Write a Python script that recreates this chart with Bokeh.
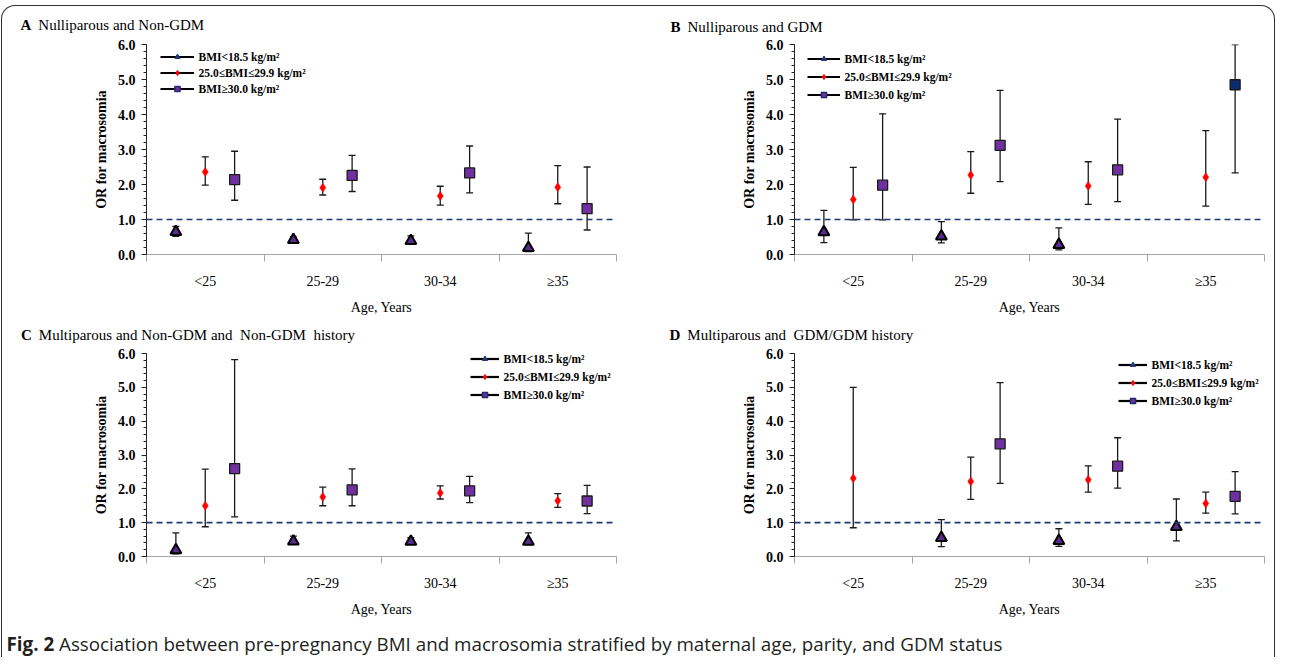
import math
from bokeh.plotting import figure
from bokeh.models import (ColumnDataSource, FixedTicker, Span, Legend,
                          LegendItem, PrintfTickFormatter, Div, Range1d)
from bokeh.layouts import column, row
from bokeh.embed import file_html
from bokeh.resources import INLINE

NaN = float("nan")

# ---------------- data ----------------
age_groups = ["<25", "25-29", "30-34", "\u226535"]
series_labels = ["BMI<18.5 kg/m\u00b2", "25.0\u2264BMI\u226429.9 kg/m\u00b2", "BMI\u226530.0 kg/m\u00b2"]
panel_titles = ["Nulliparous and Non-GDM", "Nulliparous and GDM",
                "Multiparous and Non-GDM and  Non-GDM  history",
                "Multiparous and  GDM/GDM history"]
panel_letters = ["A", "B", "C", "D"]

# Panel A
a_low_or = [0.65, 0.42, 0.39, 0.19]
a_low_lo = [0.52, 0.35, 0.30, 0.08]
a_low_hi = [0.80, 0.50, 0.53, 0.61]
a_ow_or = [2.36, 1.91, 1.67, 1.92]
a_ow_lo = [1.98, 1.70, 1.41, 1.45]
a_ow_hi = [2.79, 2.15, 1.95, 2.54]
a_ob_or = [2.14, 2.26, 2.33, 1.31]
a_ob_lo = [1.55, 1.80, 1.76, 0.70]
a_ob_hi = [2.95, 2.83, 3.10, 2.50]

# Panel B
b_low_or = [0.64, 0.52, 0.28, NaN]
b_low_lo = [0.34, 0.33, 0.13, NaN]
b_low_hi = [1.26, 0.94, 0.76, NaN]
b_ow_or = [1.57, 2.27, 1.96, 2.21]
b_ow_lo = [0.99, 1.75, 1.43, 1.38]
b_ow_hi = [2.49, 2.94, 2.65, 3.54]
b_ob_or = [1.98, 3.12, 2.42, 4.85]
b_ob_lo = [0.99, 2.08, 1.51, 2.33]
b_ob_hi = [4.02, 4.69, 3.87, 6.00]

# Panel C
c_low_or = [0.19, 0.45, 0.44, 0.44]
c_low_lo = [0.08, 0.38, 0.38, 0.35]
c_low_hi = [0.70, 0.60, 0.56, 0.70]
c_ow_or = [1.50, 1.76, 1.88, 1.65]
c_ow_lo = [0.88, 1.50, 1.70, 1.45]
c_ow_hi = [2.58, 2.05, 2.09, 1.86]
c_ob_or = [2.60, 1.97, 1.94, 1.64]
c_ob_lo = [1.17, 1.50, 1.59, 1.27]
c_ob_hi = [5.82, 2.59, 2.37, 2.10]

# Panel D
d_low_or = [NaN, 0.55, 0.46, 0.88]
d_low_lo = [NaN, 0.29, 0.30, 0.46]
d_low_hi = [NaN, 1.09, 0.82, 1.70]
d_ow_or = [2.31, 2.22, 2.27, 1.57]
d_ow_lo = [0.85, 1.69, 1.90, 1.28]
d_ow_hi = [5.00, 2.94, 2.68, 1.90]
d_ob_or = [NaN, 3.33, 2.67, 1.78]
d_ob_lo = [NaN, 2.16, 2.02, 1.26]
d_ob_hi = [NaN, 5.14, 3.51, 2.51]

reference_or = 1.0

# ---------------- styles ----------------
SERIF = "Liberation Serif"
PURPLE = "#7030A0"
NAVY = "#1F3A7A"
RED = "#FF0000"
BAR = "#1a1a1a"
square_fill = {
    "A": [PURPLE] * 4,
    "B": [PURPLE, PURPLE, PURPLE, "#0C2A6E"],
    "C": [PURPLE] * 4,
    "D": [PURPLE] * 4,
}
offsets = [0.25, 0.5, 0.75]


def add_series(p, vals, lo, hi, off, kind, fills=None):
    xs = [i + off for i in range(len(age_groups))]
    src = ColumnDataSource(dict(x=xs, y=vals, lo=lo, hi=hi))
    p.segment(x0="x", y0="lo", x1="x", y1="hi", source=src,
              line_color=BAR, line_width=1.3)
    for f in ("lo", "hi"):
        p.scatter(x="x", y=f, source=src, marker="dash", size=7,
                  line_color=BAR, line_width=1.3)
    if kind == "tri":
        p.scatter(x="x", y="y", source=src, marker="triangle", size=11,
                  fill_color="#5B2A8E", line_color="black", line_width=2)
    elif kind == "dia":
        p.scatter(x="x", y="y", source=src, marker="diamond", size=9,
                  fill_color=RED, line_color=RED, line_width=0.5)
    else:
        src.data["fill"] = fills
        p.scatter(x="x", y="y", source=src, marker="square", size=10,
                  fill_color="fill", line_color="#1a1a1a", line_width=1.3)


def make_panel(letter, data, width, height, mbl, mbr, mbt, mbb,
               leg_loc, leg_glyph_w, leg_spacing):
    p = figure(width=width, height=height, output_backend="svg",
               toolbar_location=None, x_range=Range1d(0, 4), y_range=Range1d(0, 6),
               min_border_left=mbl, min_border_right=mbr,
               min_border_top=mbt, min_border_bottom=mbb)
    p.outline_line_color = None
    p.grid.visible = False
    p.background_fill_color = "white"
    p.border_fill_color = "white"

    # x axis
    xa = p.xaxis[0]
    xa.ticker = FixedTicker(ticks=[i + 0.5 for i in range(len(age_groups))],
                            minor_ticks=[i for i in range(len(age_groups) + 1)])
    xa.major_label_overrides = {i + 0.5: g for i, g in enumerate(age_groups)}
    xa.major_tick_line_color = None
    xa.major_tick_out = 0
    xa.major_tick_in = 0
    xa.minor_tick_out = 7
    xa.minor_tick_in = 0
    xa.minor_tick_line_color = "#a6a6a6"
    xa.axis_line_color = "#a6a6a6"
    xa.major_label_text_font = SERIF
    xa.major_label_text_font_size = "14px"
    xa.major_label_text_color = "black"
    xa.major_label_standoff = 12
    xa.axis_label = "Age, Years"
    xa.axis_label_text_font = SERIF
    xa.axis_label_text_font_style = "normal"
    xa.axis_label_text_font_size = "14px"
    xa.axis_label_text_color = "black"
    xa.axis_label_standoff = 8

    # y axis
    ya = p.yaxis[0]
    ya.ticker = FixedTicker(ticks=[0, 1, 2, 3, 4, 5, 6],
                            minor_ticks=[k / 5 for k in range(31)])
    ya.formatter = PrintfTickFormatter(format="%.1f")
    ya.major_tick_out = 5
    ya.major_tick_in = 0
    ya.minor_tick_out = 3
    ya.minor_tick_in = 0
    ya.axis_line_color = "#222222"
    ya.major_tick_line_color = "#222222"
    ya.minor_tick_line_color = "#222222"
    ya.major_label_text_font = SERIF
    ya.major_label_text_font_style = "bold"
    ya.major_label_text_font_size = "14px"
    ya.major_label_text_color = "black"
    ya.major_label_standoff = 6
    ya.axis_label = "OR for macrosomia"
    ya.axis_label_text_font = SERIF
    ya.axis_label_text_font_style = "bold"
    ya.axis_label_text_font_size = "14px"
    ya.axis_label_text_color = "black"
    ya.axis_label_standoff = 6

    p.add_layout(Span(location=reference_or, dimension="width", line_color="#1F3A6E",
                      line_dash="6 4", line_width=1.6))

    low, ow, ob = data
    add_series(p, *low, offsets[0], "tri")
    add_series(p, *ow, offsets[1], "dia")
    add_series(p, *ob, offsets[2], "sq", square_fill[letter])

    # legend proxies (NaN data: nothing drawn in the plot area)
    items = []
    styles_leg = [
        dict(marker="triangle", size=10, fill_color=NAVY, line_color=NAVY, line_width=1),
        dict(marker="diamond", size=8, fill_color=RED, line_color=RED, line_width=1),
        dict(marker="square", size=10, fill_color=PURPLE, line_color="#1F2A6E", line_width=1.5),
    ]
    for lab, st in zip(series_labels, styles_leg):
        lr = p.line(x=[NaN, NaN], y=[NaN, NaN], line_color="black", line_width=2.2)
        mr = p.scatter(x=[NaN], y=[NaN], **st)
        items.append(LegendItem(label=lab, renderers=[lr, mr]))
    leg = Legend(items=items, location=leg_loc, glyph_width=leg_glyph_w,
                 glyph_height=13, label_height=13, spacing=leg_spacing,
                 label_standoff=5, padding=0, margin=0,
                 background_fill_alpha=0, border_line_color=None,
                 label_text_font=SERIF, label_text_font_style="bold",
                 label_text_font_size="11.5px", label_text_color="black")
    p.add_layout(leg)
    return p


def title_div(letter, title, left, top):
    return Div(
        text=(f'<div style="margin-top:{top}px;margin-left:{left}px;white-space:pre;">'
              f'<span style="font-weight:bold;margin-right:7px;">{letter}</span>{title}</div>'),
        width=636, height=30, margin=(0, 0, 0, 0),
        styles={"font-family": SERIF, "font-size": "15px", "line-height": "18px",
                "color": "black"})


def pack(low_or, low_lo, low_hi, ow_or, ow_lo, ow_hi, ob_or, ob_lo, ob_hi):
    return ((low_or, low_lo, low_hi), (ow_or, ow_lo, ow_hi), (ob_or, ob_lo, ob_hi))


dA = pack(a_low_or, a_low_lo, a_low_hi, a_ow_or, a_ow_lo, a_ow_hi, a_ob_or, a_ob_lo, a_ob_hi)
dB = pack(b_low_or, b_low_lo, b_low_hi, b_ow_or, b_ow_lo, b_ow_hi, b_ob_or, b_ob_lo, b_ob_hi)
dC = pack(c_low_or, c_low_lo, c_low_hi, c_ow_or, c_ow_lo, c_ow_hi, c_ob_or, c_ob_lo, c_ob_hi)
dD = pack(d_low_or, d_low_lo, d_low_hi, d_ow_or, d_ow_lo, d_ow_hi, d_ob_or, d_ob_lo, d_ob_hi)

pA = make_panel("A", dA, 636, 281, 144, 22, 8, 63, (13.5, 159), 34, 3)
pB = make_panel("B", dB, 636, 281, 156, 10, 8, 63, (12.5, 153), 33, 5)
pC = make_panel("C", dC, 636, 272, 144, 22, 6, 56, (323.5, 155), 29, 5)
pD = make_panel("D", dD, 636, 272, 156, 10, 6, 56, (323.5, 149), 29, 5)

tA = title_div("A", panel_titles[0], 18.5, 9.5)
tB = title_div("B", panel_titles[1], 32.5, 11.5)
tC = title_div("C", panel_titles[2], 19, 8.5)
tD = title_div("D", panel_titles[3], 31.5, 8.5)

caption = Div(
    text='<div style="margin-top:14px;margin-left:4.5px;white-space:nowrap;">'
         '<b>Fig. 2</b> Association between pre-pregnancy BMI and macrosomia '
         'stratified by maternal age, parity, and GDM status</div>',
    width=1272, height=38, margin=(0, 0, 0, 0),
    styles={"font-family": "Open Sans", "font-size": "18.8px",
            "line-height": "22px", "color": "#231f20"})

layout = column(row(tA, tB), row(pA, pB), row(tC, tD), row(pC, pD), caption,
                margin=(5, 0, 0, 1),
                styles={"border-top": "1.5px solid #333",
                        "border-left": "1.5px solid #333",
                        "border-right": "1.5px solid #333",
                        "border-top-left-radius": "14px",
                        "border-top-right-radius": "14px",
                        "overflow": "hidden"})

open("out.html", "w").write(file_html(layout, INLINE))
